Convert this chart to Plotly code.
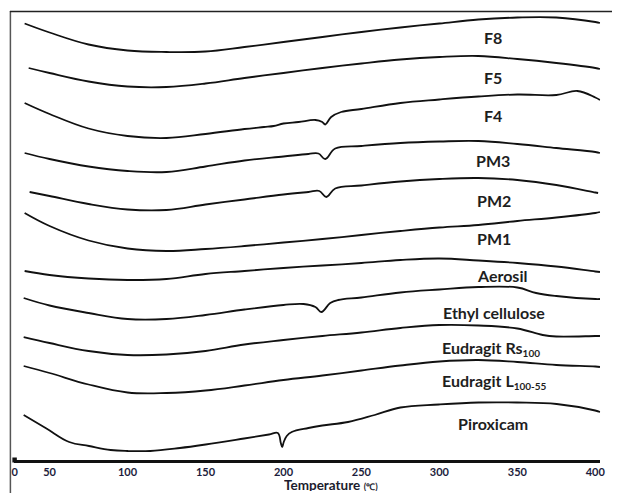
import plotly.graph_objects as go

# DSC thermograms (heat flow, arbitrary units, curves stacked; endotherm down)
# Temperatures in degrees C
T_STD = [50, 75, 100, 125, 150, 175, 200, 225, 250, 275, 300, 325, 350, 375, 400, 403]

f8_t = [34] + T_STD
f8_hf = [43.65, 42.75, 41.55, 40.95, 40.8, 40.85, 41.3, 41.8, 42.3, 42.8, 43.25, 43.65,
         44.05, 44.25, 44.25, 43.8, 43.7]

f5_t = [36.6] + T_STD
f5_hf = [39.2, 38.7, 37.85, 37.35, 37.3, 37.65, 38.2, 38.7, 39.2, 39.65, 40.05, 40.3,
         40.4, 40.1, 39.7, 39.2, 39.1]

f4_t = [34, 50, 75, 100, 125, 150, 175, 187.5, 193.8, 200, 209.7, 220.5, 224.9, 226.8,
        230.6, 237, 250, 275, 300, 325, 350, 375, 388.5, 400, 403]
f4_hf = [35.7, 34.6, 33.15, 32.4, 32.2, 32.6, 33.1, 33.3, 33.4, 33.65, 33.8, 34.0, 33.8,
         33.55, 34.3, 34.8, 35.1, 35.7, 36.05, 36.35, 36.55, 36.5, 36.9, 36.25, 36.0]

pm3_t = [34, 50, 75, 100, 125, 150, 175, 200, 216, 222.4, 226.8, 233.2, 250, 275, 300,
         325, 350, 375, 400, 403]
pm3_hf = [30.7, 30.1, 29.35, 28.9, 28.8, 29.35, 29.95, 30.35, 30.6, 30.65, 30.1, 31.15,
          31.4, 31.7, 31.85, 31.9, 31.6, 31.2, 30.8, 30.7]

pm2_t = [37.2, 50, 75, 100, 125, 150, 175, 200, 216, 223, 227.5, 233.2, 250, 275, 300,
         325, 350, 375, 400, 401.8]
pm2_hf = [26.8, 26.4, 25.6, 25.05, 25.0, 25.55, 26.05, 26.55, 26.8, 26.9, 26.3, 27.15,
          27.45, 27.85, 28.1, 28.2, 28.0, 27.5, 26.75, 26.7]

pm1_t = [34] + T_STD
pm1_hf = [24.7, 23.4, 21.95, 21.15, 20.9, 21.1, 21.4, 21.75, 22.1, 22.5, 22.9, 23.25,
          23.5, 23.9, 24.25, 24.7, 24.8]

aerosil_t = [34] + T_STD
aerosil_hf = [18.9, 18.5, 18.15, 18.0, 18.1, 18.6, 18.9, 19.2, 19.45, 19.7, 20.0, 20.15,
              19.95, 19.7, 19.35, 18.85, 18.8]

ec_t = [33.4, 50, 75, 100, 125, 150, 175, 200, 212.9, 220.5, 224.3, 230, 235.1, 250,
        275, 300, 325, 350, 362, 375, 400, 403]
ec_hf = [16.2, 15.45, 14.7, 14.1, 14.1, 14.5, 15.05, 15.5, 15.6, 15.3, 14.8, 15.7, 16.0,
         16.25, 16.75, 17.05, 17.3, 17.25, 16.7, 16.4, 16.1, 16.1]

rs_t = [33.4, 50, 75, 100, 125, 150, 175, 200, 225, 250, 275, 300, 325, 350, 366.3, 375,
        400, 403]
rs_hf = [12.3, 11.7, 10.9, 10.5, 10.55, 10.9, 11.55, 12.0, 12.4, 12.75, 13.2, 13.5, 13.45,
         13.15, 12.5, 12.35, 12.4, 12.4]

l_t = [33.4] + T_STD
l_hf = [9.4, 8.7, 7.55, 6.75, 6.7, 6.95, 7.45, 8.0, 8.45, 8.95, 9.45, 9.85, 10.0, 9.8, 9.5,
        9.35, 9.3]

pirox_t = [33.4, 48, 62.6, 75.3, 89.2, 100, 114.6, 133.6, 150.1, 174.8, 190.7, 196.4,
           198.3, 199.2, 200.2, 202.1, 205.3, 216, 224.9, 241.4, 258.5, 275, 299.7,
           325.1, 349.8, 375.2, 399.9, 403.1]
pirox_hf = [4.5, 3.15, 1.8, 1.4, 1.0, 0.9, 0.9, 1.2, 1.55, 2.15, 2.55, 2.7, 1.7, 1.3, 1.8,
            2.4, 2.8, 3.2, 3.45, 3.8, 4.5, 5.25, 5.55, 5.75, 5.75, 5.6, 4.95, 4.8]

SUB = "<sub><span style='font-size:10px'>%s</span></sub>"
series = [
    ("F8", f8_t, f8_hf, 334.6, 42.3),
    ("F5", f5_t, f5_hf, 334.6, 38.3),
    ("F4", f4_t, f4_hf, 334.6, 34.5),
    ("PM3", pm3_t, pm3_hf, 334.6, 30.0),
    ("PM2", pm2_t, pm2_hf, 335.3, 26.0),
    ("PM1", pm1_t, pm1_hf, 335.3, 22.2),
    ("Aerosil", aerosil_t, aerosil_hf, 340.3, 18.5),
    ("Ethyl cellulose", ec_t, ec_hf, 335.3, 14.8),
    ("Eudragit Rs" + SUB % "100", rs_t, rs_hf, 333.4, 11.2),
    ("Eudragit L" + SUB % "100-55", l_t, l_hf, 335.3, 7.9),
    ("Piroxicam", pirox_t, pirox_hf, 334.6, 3.7),
]

tick_vals = [27.7, 50, 100, 150, 200, 250, 300, 350, 400]
tick_text = ["0", "50", "100", "150", "200", "250", "300", "350", "400"]

W, H = 617, 493
fig = go.Figure()
annotations = []
for name, t, hf, lx, ly in series:
    fig.add_trace(go.Scatter(x=t, y=hf, mode="lines", name=name,
                             line=dict(color="#111111", width=1.8, shape="spline",
                                       smoothing=1.1),
                             showlegend=False))
    annotations.append(dict(x=lx, y=ly, xref="x", yref="y", text="<b>%s</b>" % name,
                            showarrow=False, xanchor="center", yanchor="middle",
                            font=dict(family="Lato", size=16, color="#1e1e1e")))

annotations.append(dict(
    x=333 / W, y=1 - 492 / H, xref="paper", yref="paper", showarrow=False,
    xanchor="center", yanchor="bottom", height=13, borderpad=0,
    text="<b>Temperature</b> <span style='font-size:9px'><b>(℃)</b></span>",
    font=dict(family="Lato", size=13.5, color="#1c1c2e")))

shapes = [
    # frame (left and top)
    dict(type="line", xref="paper", yref="paper", x0=8.5 / W, x1=8.5 / W, y0=0,
         y1=1 - 11 / H, line=dict(color="#555555", width=1.5)),
    dict(type="line", xref="paper", yref="paper", x0=8 / W, x1=1, y0=1 - 11.5 / H,
         y1=1 - 11.5 / H, line=dict(color="#222222", width=1.5)),
    # origin marker on the temperature axis
    dict(type="rect", xref="paper", yref="paper", x0=10.5 / W, x1=15 / W,
         y0=1 - 462.5 / H, y1=1 - 457.5 / H, fillcolor="#111111", line=dict(width=0)),
]

fig.update_layout(
    width=W, height=H, margin=dict(l=0, r=0, t=0, b=0),
    paper_bgcolor="white", plot_bgcolor="white",
    xaxis=dict(domain=[12 / W, 605 / W], range=[27.1, 403.1], showline=True,
               linecolor="#111111", linewidth=3, showgrid=False, zeroline=False,
               ticks="", tickvals=tick_vals, ticktext=tick_text,
               tickfont=dict(family="Lato", size=11, color="#1c1c3c", weight="bold")),
    yaxis=dict(domain=[33 / H, 1], range=[0, 46], visible=False),
    annotations=annotations, shapes=shapes,
)

fig.write_html("out.html")
